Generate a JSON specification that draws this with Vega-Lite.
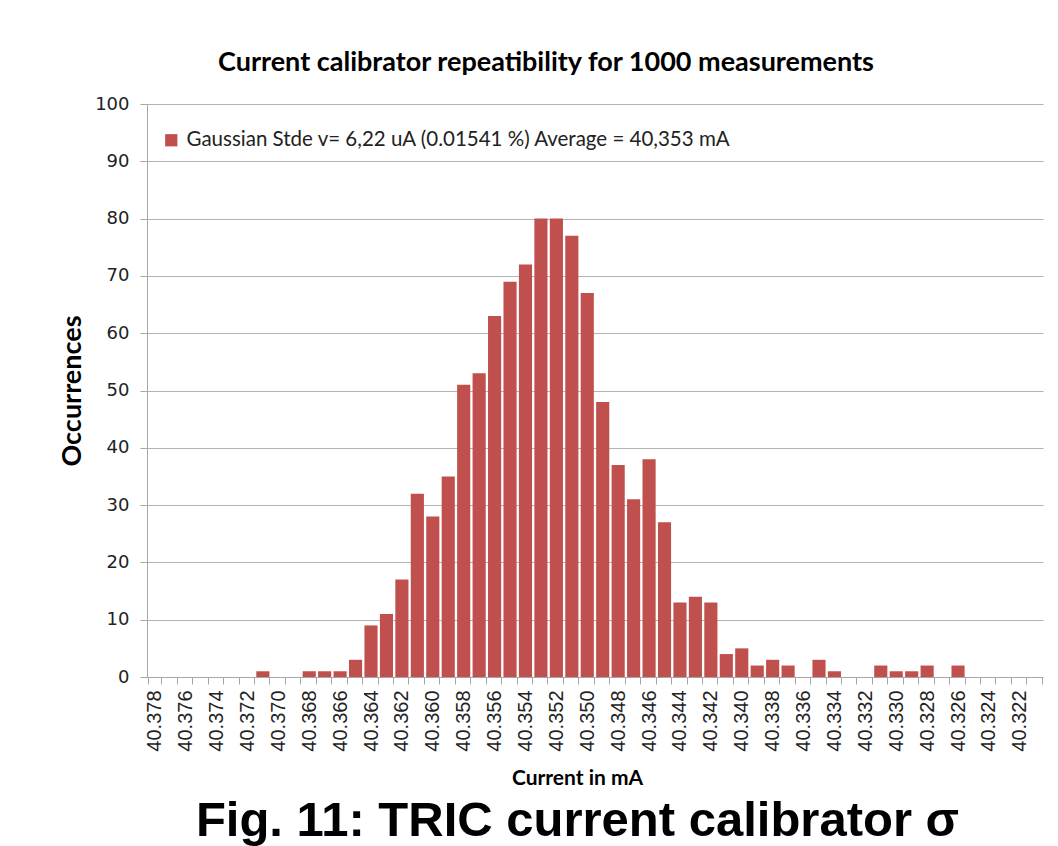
{
  "$schema": "https://vega.github.io/schema/vega-lite/v6.json",
  "width": 896,
  "height": 573,
  "autosize": {"type": "none"},
  "padding": {"left": 147, "top": 104, "right": 15, "bottom": 169},
  "background": "white",
  "title": {
    "text": "Current calibrator repeatibility for 1000 measurements",
    "font": "Lato",
    "fontSize": 27,
    "fontWeight": "bold",
    "color": "black",
    "anchor": "middle",
    "dx": -49,
    "offset": 18
  },
  "config": {"view": {"stroke": null}},
  "data": {
    "values": [
      {"current": "40.378", "count": 0},
      {"current": "40.377", "count": 0},
      {"current": "40.376", "count": 0},
      {"current": "40.375", "count": 0},
      {"current": "40.374", "count": 0},
      {"current": "40.373", "count": 0},
      {"current": "40.372", "count": 0},
      {"current": "40.371", "count": 1},
      {"current": "40.370", "count": 0},
      {"current": "40.369", "count": 0},
      {"current": "40.368", "count": 1},
      {"current": "40.367", "count": 1},
      {"current": "40.366", "count": 1},
      {"current": "40.365", "count": 3},
      {"current": "40.364", "count": 9},
      {"current": "40.363", "count": 11},
      {"current": "40.362", "count": 17},
      {"current": "40.361", "count": 32},
      {"current": "40.360", "count": 28},
      {"current": "40.359", "count": 35},
      {"current": "40.358", "count": 51},
      {"current": "40.357", "count": 53},
      {"current": "40.356", "count": 63},
      {"current": "40.355", "count": 69},
      {"current": "40.354", "count": 72},
      {"current": "40.353", "count": 80},
      {"current": "40.352", "count": 80},
      {"current": "40.351", "count": 77},
      {"current": "40.350", "count": 67},
      {"current": "40.349", "count": 48},
      {"current": "40.348", "count": 37},
      {"current": "40.347", "count": 31},
      {"current": "40.346", "count": 38},
      {"current": "40.345", "count": 27},
      {"current": "40.344", "count": 13},
      {"current": "40.343", "count": 14},
      {"current": "40.342", "count": 13},
      {"current": "40.341", "count": 4},
      {"current": "40.340", "count": 5},
      {"current": "40.339", "count": 2},
      {"current": "40.338", "count": 3},
      {"current": "40.337", "count": 2},
      {"current": "40.336", "count": 0},
      {"current": "40.335", "count": 3},
      {"current": "40.334", "count": 1},
      {"current": "40.333", "count": 0},
      {"current": "40.332", "count": 0},
      {"current": "40.331", "count": 2},
      {"current": "40.330", "count": 1},
      {"current": "40.329", "count": 1},
      {"current": "40.328", "count": 2},
      {"current": "40.327", "count": 0},
      {"current": "40.326", "count": 2},
      {"current": "40.325", "count": 0},
      {"current": "40.324", "count": 0},
      {"current": "40.323", "count": 0},
      {"current": "40.322", "count": 0},
      {"current": "40.321", "count": 0}
    ]
  },
  "layer": [
    {
      "mark": {"type": "bar"},
      "encoding": {
        "x": {
          "field": "current",
          "type": "nominal",
          "sort": null,
          "scale": {"paddingInner": 0.15, "paddingOuter": 0.075},
          "axis": {
            "orient": "bottom",
            "labelAngle": -90,
            "labelExpr": "parseInt(substring(datum.label, 5, 6)) % 2 == 0 ? datum.label : ''",
            "labelFont": "Liberation Sans",
            "labelFontSize": 20,
            "labelColor": "#222",
            "labelPadding": 6,
            "labelOverlap": false,
            "tickBand": "extent",
            "tickSize": 7,
            "tickColor": "#a6a6a6",
            "domainColor": "#a6a6a6",
            "grid": false,
            "title": "Current in mA",
            "titleFont": "Lato",
            "titleFontSize": 21,
            "titleFontWeight": "bold",
            "titleColor": "black",
            "titlePadding": 16,
            "titleX": 430
          }
        },
        "y": {
          "field": "count",
          "type": "quantitative",
          "scale": {"domain": [0, 100]},
          "axis": {
            "values": [0, 10, 20, 30, 40, 50, 60, 70, 80, 90, 100],
            "labelFont": "DejaVu Sans",
            "labelFontSize": 18,
            "labelColor": "#222",
            "labelPadding": 11,
            "tickSize": 7,
            "tickColor": "#a6a6a6",
            "domainColor": "#a6a6a6",
            "gridColor": "#b3b3b3",
            "title": "Occurrences",
            "titleFont": "Lato",
            "titleFontSize": 27,
            "titleFontWeight": "bold",
            "titleColor": "black",
            "titlePadding": 8
          }
        },
        "color": {
          "datum": "Gaussian Stde v= 6,22 uA (0.01541 %) Average = 40,353 mA",
          "type": "nominal",
          "scale": {"range": ["#C0504D"]},
          "legend": {
            "title": null,
            "orient": "none",
            "legendX": 14,
            "legendY": 26,
            "padding": 0,
            "symbolType": "square",
            "symbolSize": 150,
            "symbolStrokeWidth": 0,
            "labelFont": "Lato",
            "labelFontSize": 20.5,
            "labelLimit": 0,
            "labelColor": "#222",
            "labelOffset": 5
          }
        }
      }
    },
    {
      "mark": {"type": "bar", "opacity": 0},
      "encoding": {
        "x": {
          "field": "current",
          "type": "nominal",
          "sort": null,
          "axis": {
            "orient": "bottom",
            "labels": false,
            "ticks": false,
            "domain": false,
            "grid": false,
            "title": "Fig. 11: TRIC current calibrator σ",
            "titleFont": "Liberation Sans",
            "titleFontSize": 49,
            "titleFontWeight": "bold",
            "titleColor": "black",
            "titleBaseline": "alphabetic",
            "titleY": 158,
            "titleX": 430
          }
        }
      }
    }
  ],
  "resolve": {"axis": {"x": "independent"}}
}
